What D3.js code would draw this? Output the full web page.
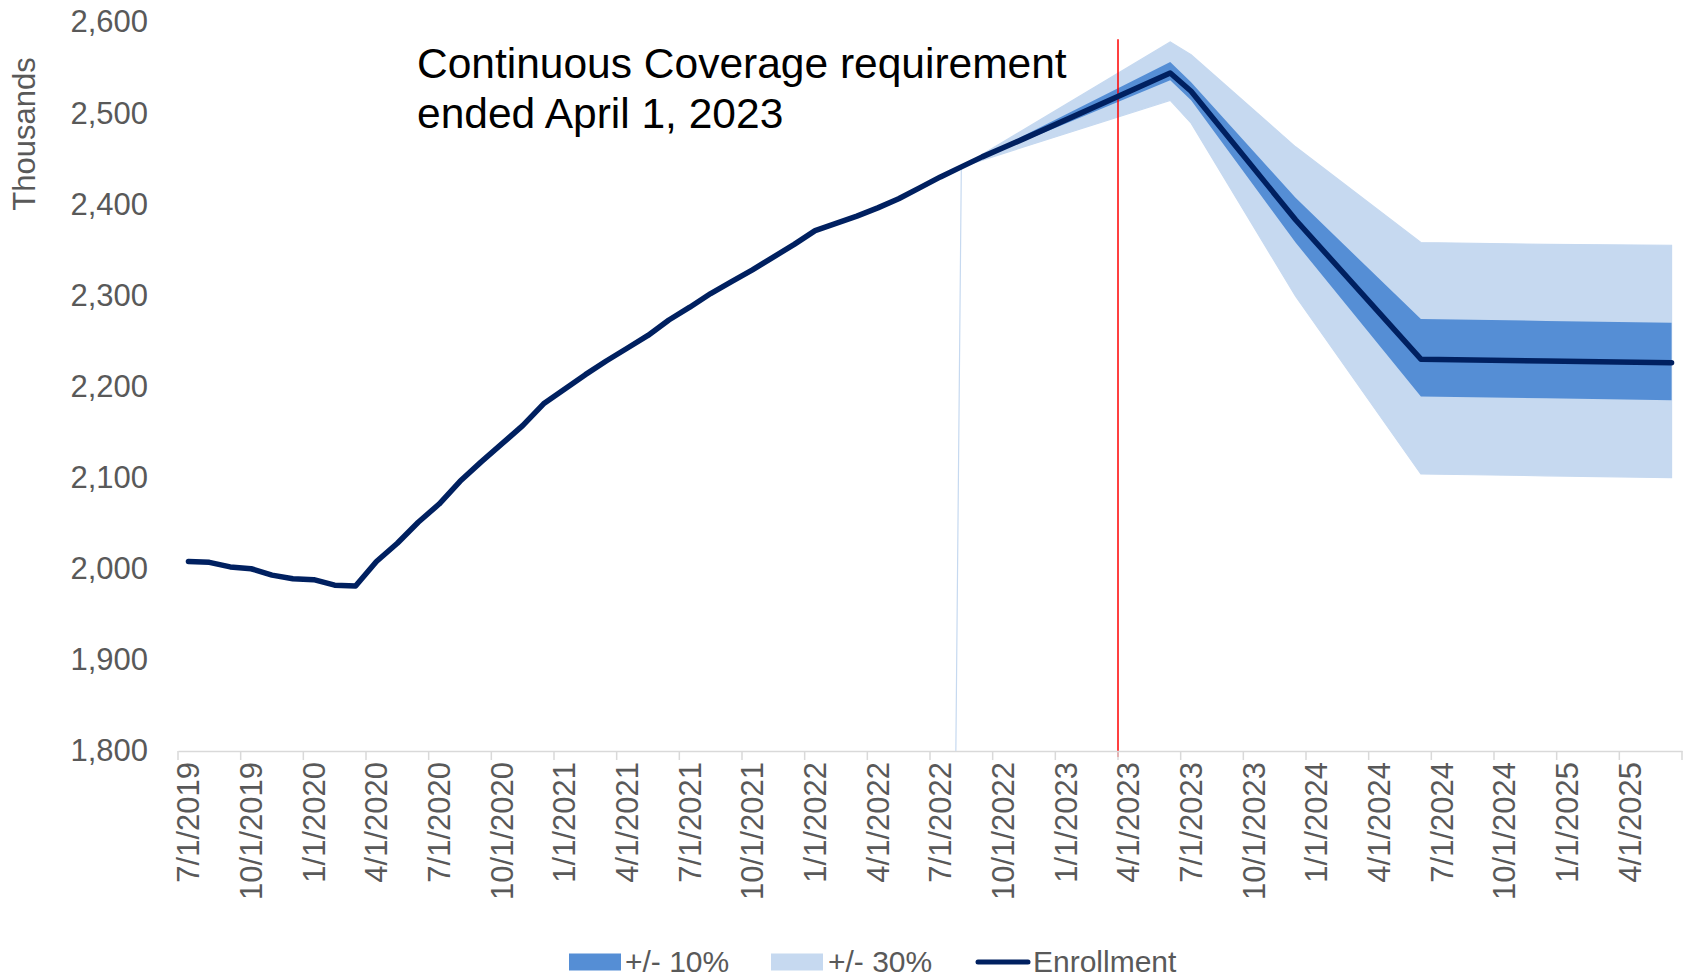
<!DOCTYPE html>
<html lang="en">
<head>
<meta charset="UTF-8">
<title>Enrollment</title>
<script src="https://cdn.jsdelivr.net/npm/d3@7"></script>
<style>
  body { margin: 0; background: #fff; }
  svg text { font-family: "Liberation Sans", Arial, sans-serif; }
</style>
</head>
<body>
<div id="chart"></div>
<script>

// months on the category axis
var months = [
  "7/1/2019","8/1/2019","9/1/2019","10/1/2019","11/1/2019","12/1/2019",
  "1/1/2020","2/1/2020","3/1/2020","4/1/2020","5/1/2020","6/1/2020","7/1/2020","8/1/2020","9/1/2020","10/1/2020","11/1/2020","12/1/2020",
  "1/1/2021","2/1/2021","3/1/2021","4/1/2021","5/1/2021","6/1/2021","7/1/2021","8/1/2021","9/1/2021","10/1/2021","11/1/2021","12/1/2021",
  "1/1/2022","2/1/2022","3/1/2022","4/1/2022","5/1/2022","6/1/2022","7/1/2022","8/1/2022","9/1/2022","10/1/2022","11/1/2022","12/1/2022",
  "1/1/2023","2/1/2023","3/1/2023","4/1/2023","5/1/2023","6/1/2023","7/1/2023","8/1/2023","9/1/2023","10/1/2023","11/1/2023","12/1/2023",
  "1/1/2024","2/1/2024","3/1/2024","4/1/2024","5/1/2024","6/1/2024","7/1/2024","8/1/2024","9/1/2024","10/1/2024","11/1/2024","12/1/2024",
  "1/1/2025","2/1/2025","3/1/2025","4/1/2025","5/1/2025","6/1/2025"
];

// enrollment (thousands), blanks are joined by the line
var enrollment = [
  2008, 2007, 2002, 2000, 1993, 1989,
  1988, 1982, 1981, 2008, 2028, 2051, 2071, 2096, 2117, 2137, 2157, 2181,
  2197, 2213, 2228, 2242, 2256, 2273, 2287, 2302, 2315, 2328, 2342, 2356,
  2371, 2379, 2387, 2396, 2406, 2418, 2430, 2441, 2452, 2462, 2472, null,
  null, null, null, null, null, 2544, 2524, null, null, null, null, 2383,
  null, null, null, null, null, 2230, null, null, null, null, null, 2228,
  null, null, null, null, null, 2226
];

// forecast bands, keyed by month
var bandMonths = ["7/1/2022", "8/1/2022", "6/1/2023", "7/1/2023", "12/1/2023", "6/1/2024", "12/1/2024", "6/1/2025"];
var upper30 = [0, 2441, 2578, 2564, 2463, 2358, 2356, 2355];
var upper10 = [null, 2441, 2556, 2534, 2407, 2274, 2272, 2270];
var lower10 = [null, 2441, 2536, 2514, 2358, 2189, 2187, 2185];
var lower30 = [0, 2441, 2514, 2489, 2299, 2104, 2102, 2100];

var yTicks = [1800, 1900, 2000, 2100, 2200, 2300, 2400, 2500, 2600];
var endMonth = "4/1/2023";   // red marker
var endTop = 2581;

var width = 1687, height = 980;

var svg = d3.select("#chart").append("svg")
    .attr("width", width)
    .attr("height", height);

var x = d3.scaleBand().domain(months).range([178, 1682]);
var y = d3.scaleLinear().domain([1800, 2600]).range([751, 22]);
var bw = x.bandwidth();
var cx = function (m) { return x(m) + bw / 2; };

svg.append("clipPath").attr("id", "plot")
    .append("rect").attr("x", 178).attr("y", 0).attr("width", 1504).attr("height", 751);

// bands
var bands = bandMonths.map(function (m, i) {
    return { m: m, u30: upper30[i], u10: upper10[i], l10: lower10[i], l30: lower30[i] };
});

svg.append("path")
    .datum(bands)
    .attr("clip-path", "url(#plot)")
    .attr("fill", "#c6d9f0")
    .attr("stroke", "#c6d9f0")
    .attr("stroke-width", 1.2)
    .attr("d", d3.area()
        .x(function (d) { return cx(d.m); })
        .y0(function (d) { return y(d.l30); })
        .y1(function (d) { return y(d.u30); }));

svg.append("path")
    .datum(bands.filter(function (d) { return d.u10 != null; }))
    .attr("fill", "#558ed5")
    .attr("d", d3.area()
        .x(function (d) { return cx(d.m); })
        .y0(function (d) { return y(d.l10); })
        .y1(function (d) { return y(d.u10); }));

// red marker line
svg.append("line")
    .attr("x1", x(endMonth)).attr("x2", x(endMonth))
    .attr("y1", y(endTop)).attr("y2", 757)
    .attr("stroke", "#ff0000")
    .attr("stroke-width", 1.5);

// enrollment line
var pts = months.map(function (m, i) { return { m: m, v: enrollment[i] }; })
    .filter(function (d) { return d.v != null; });

svg.append("path")
    .datum(pts)
    .attr("fill", "none")
    .attr("stroke", "#002060")
    .attr("stroke-width", 5.5)
    .attr("stroke-linejoin", "round")
    .attr("stroke-linecap", "round")
    .attr("d", d3.line()
        .x(function (d) { return cx(d.m); })
        .y(function (d) { return y(d.v); }));

// x axis
var labelMonths = months.filter(function (m, i) { return i % 3 === 0; });
var xAxis = svg.append("g")
    .attr("transform", "translate(0,751)")
    .call(d3.axisBottom(x).tickValues(labelMonths).tickSize(9).tickSizeOuter(0));

xAxis.select(".domain").attr("stroke", "#d9d9d9").attr("stroke-width", 1.5);
xAxis.selectAll(".tick line")
    .attr("stroke", "#d9d9d9").attr("stroke-width", 1.5)
    .attr("x1", -bw / 2).attr("x2", -bw / 2);
xAxis.append("line")
    .attr("x1", 1682).attr("x2", 1682).attr("y1", 0).attr("y2", 9)
    .attr("stroke", "#d9d9d9").attr("stroke-width", 1.5);
xAxis.selectAll(".tick text")
    .attr("x", 0).attr("y", 0).attr("dy", "0.35em")
    .attr("transform", "translate(0,11) rotate(-90)")
    .attr("text-anchor", "end")
    .attr("fill", "#595959")
    .style("font-size", "31px")
    .style("font-family", "'Liberation Sans', Arial, sans-serif");

// y axis
var yAxis = svg.append("g")
    .attr("transform", "translate(178,0)")
    .call(d3.axisLeft(y).tickValues(yTicks).tickFormat(d3.format(",")).tickSize(0).tickPadding(30));
yAxis.select(".domain").remove();
yAxis.selectAll(".tick text")
    .attr("fill", "#595959")
    .style("font-size", "31px")
    .style("font-family", "'Liberation Sans', Arial, sans-serif");

svg.append("text")
    .attr("transform", "translate(24,134) rotate(-90)")
    .attr("text-anchor", "middle")
    .attr("dy", "0.35em")
    .attr("fill", "#595959")
    .style("font-size", "31px")
    .text("Thousands");

// annotation
var note = svg.append("text")
    .attr("x", 417)
    .attr("fill", "#000")
    .style("font-size", "42.5px");
note.append("tspan").attr("x", 417).attr("y", 78).text("Continuous Coverage requirement");
note.append("tspan").attr("x", 417).attr("y", 128).text("ended April 1, 2023");

// legend
var legend = svg.append("g").attr("transform", "translate(0,962)");
legend.append("rect").attr("x", 569).attr("y", -8.5).attr("width", 52).attr("height", 17).attr("fill", "#558ed5");
legend.append("text").attr("x", 625).attr("y", 10).attr("fill", "#595959").style("font-size", "30px").text("+/- 10%");
legend.append("rect").attr("x", 771).attr("y", -8.5).attr("width", 52).attr("height", 17).attr("fill", "#c6d9f0");
legend.append("text").attr("x", 828).attr("y", 10).attr("fill", "#595959").style("font-size", "30px").text("+/- 30%");
legend.append("line").attr("x1", 978).attr("x2", 1028).attr("y1", 0).attr("y2", 0)
    .attr("stroke", "#002060").attr("stroke-width", 5).attr("stroke-linecap", "round");
legend.append("text").attr("x", 1033).attr("y", 10).attr("fill", "#595959").style("font-size", "30px").text("Enrollment");

</script>
</body>
</html>
